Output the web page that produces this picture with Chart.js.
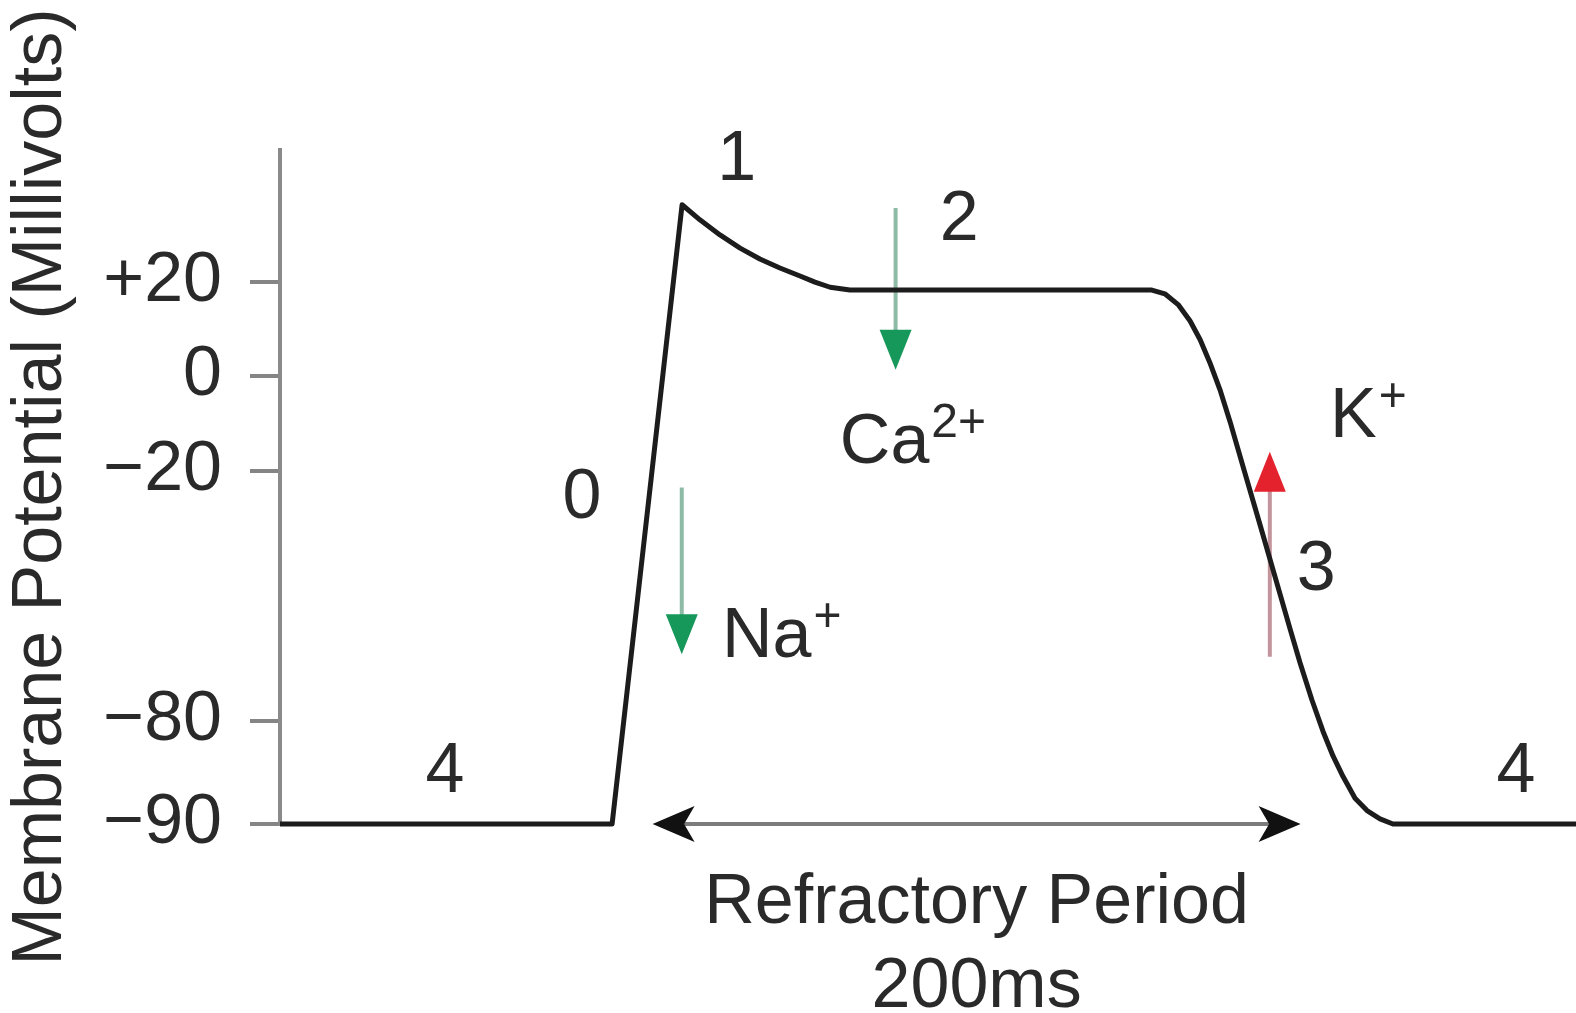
<!DOCTYPE html>
<html>
<head>
<meta charset="utf-8">
<script src="https://cdn.jsdelivr.net/npm/chart.js@4/dist/chart.umd.min.js"></script>
<style>
  html, body { margin: 0; padding: 0; background: #fff; }
  canvas { display: block; }
</style>
</head>
<body>
<canvas id="apChart" width="1576" height="1013"></canvas>
<script>
// Cardiac action potential
const timeMs = [0, 102.5,
    124.1, 129.6, 135.8, 142, 148.1, 154.3, 160.5, 165.1, 169.8, 175.9,
    269.1, 273.1, 277.2, 280.9, 284, 287, 290.1, 293.2, 297.8, 302.5,
    307.1, 311.7, 314.8, 318.5, 321.9, 325, 328.1, 331.8, 335.5, 339.5,
    343.5, 400];
const membraneMv = [-90, -90,
    36.4, 33.2, 30, 27.2, 24.9, 23, 21.3, 20, 18.9, 18.3,
    18.3, 17.5, 15.2, 11.7, 7.7, 2.8, -2.9, -9.6, -20.5, -33,
    -45.4, -57.8, -66, -75, -81, -83.4, -85.4, -87.5, -88.7, -89.5,
    -90, -90];

const yTickValues = [-90, -80, -20, 0, 20];
const yTickLabels = ['\u221290', '\u221280', '\u221220', '0', '+20'];

const refractoryStart = 115;
const refractoryMs = 200;

// the drawn axis is schematic: each tick gets its own share of the height
const yBreaks = [[-90, 0], [-80, 0.153], [-20, 0.524], [0, 0.665], [20, 0.804], [48, 1]];

class BrokenLinearScale extends Chart.LinearScale {
    static id = 'brokenLinear';
    static defaults = Chart.LinearScale.defaults;

    toDecimal(v) {
        const k = yBreaks;
        let i = 1;
        while (i < k.length - 1 && v > k[i][0]) i++;
        const [v0, d0] = k[i - 1], [v1, d1] = k[i];
        return d0 + (v - v0) / (v1 - v0) * (d1 - d0);
    }
    getPixelForValue(value) {
        return this.getPixelForDecimal(this.toDecimal(value));
    }
    getValueForPixel(pixel) {
        const d = this.getDecimalForPixel(pixel);
        const k = yBreaks;
        let i = 1;
        while (i < k.length - 1 && d > k[i][1]) i++;
        const [v0, d0] = k[i - 1], [v1, d1] = k[i];
        return v0 + (d - d0) / (d1 - d0) * (v1 - v0);
    }
}
Chart.register(BrokenLinearScale);

const textColor = '#2a2a2a';
const font = '"Liberation Sans", Arial, Helvetica, sans-serif';

function arrowHead(ctx, tipX, tipY, dx, dy, len, half, notch) {
    const bx = tipX - dx * len, by = tipY - dy * len;
    const nx = -dy, ny = dx;
    ctx.beginPath();
    ctx.moveTo(tipX, tipY);
    ctx.lineTo(bx + nx * half, by + ny * half);
    ctx.lineTo(tipX - dx * len * (1 - notch), tipY - dy * len * (1 - notch));
    ctx.lineTo(bx - nx * half, by - ny * half);
    ctx.closePath();
    ctx.fill();
}

// ion currents, in ms / mV
const ionArrows = [
    { t: 124, from: -24, to: -64, shaft: '#8dbba5', head: '#16985a' },
    { t: 190, from: 35.7, to: 1.3, shaft: '#8dbba5', head: '#16985a' },
    { t: 305.5, from: -64.6, to: -16, shaft: '#c3949c', head: '#e3222e' }
];
const ionLabels = [
    { main: 'Na', sup: '+', t: 136.4, mv: -64.6 },
    { main: 'Ca', sup: '2+', t: 172.8, mv: -18.3 },
    { main: 'K', sup: '+', t: 324.1, mv: -12.8 }
];
const phaseLabels = [
    { text: '0', t: 93.2, mv: -31.3 },
    { text: '1', t: 141, mv: 41.7 },
    { text: '2', t: 209.6, mv: 28.9 },
    { text: '3', t: 319.8, mv: -48.6 },
    { text: '4', t: 50.9, mv: -86.9 },
    { text: '4', t: 381.5, mv: -86.9 }
];

const annotate = {
    id: 'annotate',
    beforeDatasetsDraw(chart) {
        const { ctx, scales: { x, y } } = chart;
        ctx.save();
        ionArrows.forEach(a => {
            const px = x.getPixelForValue(a.t);
            const y0 = y.getPixelForValue(a.from), y1 = y.getPixelForValue(a.to);
            const dir = y1 > y0 ? 1 : -1;
            ctx.strokeStyle = a.shaft;
            ctx.lineWidth = 4;
            ctx.beginPath();
            ctx.moveTo(px, y0);
            ctx.lineTo(px, y1 - dir * 30);
            ctx.stroke();
            ctx.fillStyle = a.head;
            arrowHead(ctx, px, y1, 0, dir, 40, 16, 0);
        });

        // refractory period double arrow on the resting line
        const ry = y.getPixelForValue(-90);
        const rx0 = x.getPixelForValue(refractoryStart);
        const rx1 = x.getPixelForValue(refractoryStart + refractoryMs);
        ctx.strokeStyle = '#7c7c7c';
        ctx.lineWidth = 4;
        ctx.beginPath();
        ctx.moveTo(rx0 + 25, ry);
        ctx.lineTo(rx1 - 25, ry);
        ctx.stroke();
        ctx.fillStyle = '#111';
        arrowHead(ctx, rx0, ry, -1, 0, 42, 18, 0.25);
        arrowHead(ctx, rx1, ry, 1, 0, 42, 18, 0.25);
        ctx.restore();
    },
    afterDatasetsDraw(chart) {
        const { ctx, scales: { x, y } } = chart;
        ctx.save();
        ctx.fillStyle = textColor;
        ctx.textBaseline = 'alphabetic';
        ctx.font = '70px ' + font;
        ctx.textAlign = 'center';
        phaseLabels.forEach(p => {
            ctx.fillText(p.text, x.getPixelForValue(p.t), y.getPixelForValue(p.mv));
        });

        ctx.textAlign = 'left';
        ionLabels.forEach(l => {
            const px = x.getPixelForValue(l.t), py = y.getPixelForValue(l.mv);
            ctx.font = '70px ' + font;
            ctx.fillText(l.main, px, py);
            const w = ctx.measureText(l.main).width;
            ctx.font = '48px ' + font;
            ctx.fillText(l.sup, px + w + 2, py - 26);
        });

        const ry = y.getPixelForValue(-90);
        const mid = x.getPixelForValue(refractoryStart + refractoryMs / 2);
        ctx.font = '70px ' + font;
        ctx.textAlign = 'center';
        ctx.fillText('Refractory Period', mid, ry + 99);
        ctx.fillText(refractoryMs + 'ms', mid, ry + 183);
        ctx.restore();
    }
};

const ctx = document.getElementById('apChart').getContext('2d');
new Chart(ctx, {
    type: 'line',
    data: {
        datasets: [{
            label: 'Membrane potential',
            data: timeMs.map((t, i) => ({ x: t, y: membraneMv[i] })),
            borderColor: '#1c1c1c',
            borderWidth: 5,
            borderJoinStyle: 'round',
            pointRadius: 0,
            tension: 0,
            fill: false,
            clip: false
        }]
    },
    options: {
        responsive: false,
        animation: false,
        layout: {
            padding: { top: 150, right: 0, bottom: 189, left: 0 }
        },
        plugins: {
            legend: { display: false },
            tooltip: { enabled: false }
        },
        scales: {
            x: {
                type: 'linear',
                min: 0,
                max: 400,
                display: false
            },
            y: {
                type: 'brokenLinear',
                min: -90,
                max: 48,
                afterBuildTicks: scale => {
                    scale.ticks = yTickValues.map(v => ({ value: v }));
                },
                afterFit: scale => {
                    scale.width = 280;
                },
                ticks: {
                    autoSkip: false,
                    maxRotation: 0,
                    padding: 28,
                    color: textColor,
                    font: { size: 70, family: font },
                    callback: (v, i) => yTickLabels[i]
                },
                grid: {
                    drawOnChartArea: false,
                    drawTicks: true,
                    tickLength: 30,
                    color: '#858585',
                    lineWidth: 4
                },
                border: {
                    display: true,
                    color: '#8a8a8a',
                    width: 4
                },
                title: {
                    display: true,
                    text: 'Membrane Potential (Millivolts)',
                    color: textColor,
                    font: { size: 70, family: font },
                    padding: { top: 0, bottom: 0 }
                }
            }
        }
    },
    plugins: [annotate]
});
</script>
</body>
</html>
